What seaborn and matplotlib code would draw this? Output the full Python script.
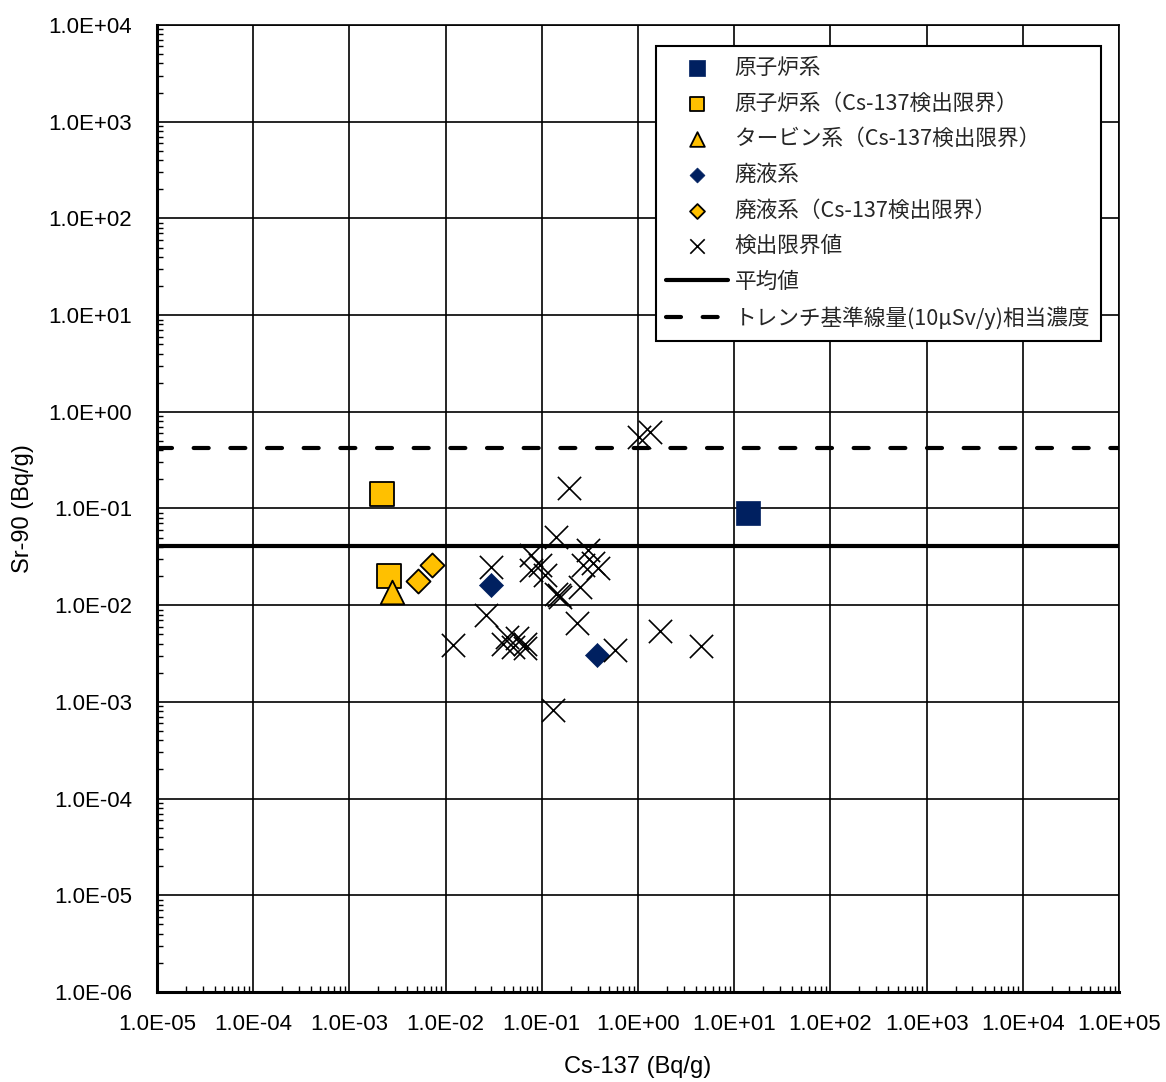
import matplotlib
matplotlib.use("Agg")
import matplotlib.pyplot as plt
import matplotlib.ticker as mticker
from matplotlib.font_manager import FontProperties
import seaborn as sns

# Sr-90 vs Cs-137 concentrations (Bq/g)
reactor_cs = [13.8]
reactor_sr = [0.089]
reactor_dl_cs = [0.00216, 0.00259]
reactor_dl_sr = [0.140, 0.020]
turbine_dl_cs = [0.00278]
turbine_dl_sr = [0.0138]
waste_cs = [0.030, 0.371]
waste_sr = [0.0160, 0.00303]
waste_dl_cs = [0.00522, 0.00720]
waste_dl_sr = [0.0179, 0.0262]
limit_cs = [1.02, 1.33, 0.190, 0.140, 0.030,
            0.078, 0.078, 0.095, 0.107,
            0.142, 0.150, 0.155,
            0.303, 0.269, 0.341, 0.385, 0.248,
            0.233, 0.0266,
            0.043, 0.0396, 0.0546, 0.0665, 0.0504, 0.0665,
            0.0120, 0.574, 1.69, 4.5, 0.131]
limit_sr = [0.551, 0.612, 0.161, 0.051, 0.0249,
            0.033, 0.0231, 0.026, 0.0205,
            0.0132, 0.0128, 0.0122,
            0.037, 0.026, 0.027, 0.024, 0.0155,
            0.00658, 0.0079,
            0.0047, 0.0040, 0.00454, 0.0040, 0.00372, 0.0036,
            0.00390, 0.00343, 0.0054, 0.00378, 0.00082]
mean_sr = 0.0408
trench_sr = 0.418

labels = ["原子炉系", "原子炉系（Cs-137検出限界）", "タービン系（Cs-137検出限界）",
          "廃液系", "廃液系（Cs-137検出限界）", "検出限界値",
          "平均値", "トレンチ基準線量(10μSv/y)相当濃度"]

NAVY = "#002060"
ORANGE = "#FFC000"

sns.set_theme(style="white")
plt.rcParams["font.family"] = ["Liberation Sans", "DejaVu Sans"]

fig = plt.figure(figsize=(11.66, 10.82), dpi=100)
ax = fig.add_axes([157 / 1166, 1 - 992 / 1082, 962 / 1166, 967 / 1082])
ax.set_xscale("log")
ax.set_yscale("log")
ax.set_xlim(1e-5, 1e5)
ax.set_ylim(1e-6, 1e4)

sns.scatterplot(x=reactor_cs, y=reactor_sr, marker="s", s=320, color=NAVY,
                edgecolor=NAVY, linewidth=0.5, label=labels[0], ax=ax, zorder=4)
sns.scatterplot(x=reactor_dl_cs, y=reactor_dl_sr, marker="s", s=300, color=ORANGE,
                edgecolor="black", linewidth=1.3, label=labels[1], ax=ax, zorder=4)
sns.scatterplot(x=turbine_dl_cs, y=turbine_dl_sr, marker="^", s=290, color=ORANGE,
                edgecolor="black", linewidth=1.3, label=labels[2], ax=ax, zorder=4)
sns.scatterplot(x=waste_cs, y=waste_sr, marker="D", s=150, color=NAVY,
                edgecolor=NAVY, linewidth=0.5, label=labels[3], ax=ax, zorder=4)
sns.scatterplot(x=waste_dl_cs, y=waste_dl_sr, marker="D", s=150, color=ORANGE,
                edgecolor="black", linewidth=1.3, label=labels[4], ax=ax, zorder=4)
sns.scatterplot(x=limit_cs, y=limit_sr, marker="x", s=280, color="black",
                linewidth=1.2, label=labels[5], ax=ax, zorder=5)

ax.axhline(mean_sr, color="black", lw=3.0, label=labels[6], zorder=3)
ax.axhline(trench_sr, color="black", lw=3.0, ls=(0, (3.6, 5.2)),
           dash_capstyle="round", label=labels[7], zorder=3)

# grid and ticks
ax.grid(True, which="major", color="black", lw=1.2)
ax.set_axisbelow(True)
ax.xaxis.set_major_locator(mticker.LogLocator(base=10, numticks=20))
ax.yaxis.set_major_locator(mticker.LogLocator(base=10, numticks=20))
ax.xaxis.set_minor_locator(mticker.LogLocator(base=10, subs=range(2, 10), numticks=20))
ax.yaxis.set_minor_locator(mticker.LogLocator(base=10, subs=range(2, 10), numticks=20))
fmt = mticker.FuncFormatter(lambda v, p: f"{v:.1E}")
ax.xaxis.set_major_formatter(fmt)
ax.yaxis.set_major_formatter(fmt)
ax.xaxis.set_minor_formatter(mticker.NullFormatter())
ax.yaxis.set_minor_formatter(mticker.NullFormatter())
ax.tick_params(which="both", direction="in", colors="black", left=True, bottom=True,
               top=False, right=False)
ax.tick_params(which="major", length=0, labelsize=16)
ax.tick_params(which="minor", length=4.5, width=1.0)
ax.tick_params(axis="x", which="major", pad=16)
ax.tick_params(axis="y", which="major", pad=18)

for side in ["left", "bottom"]:
    ax.spines[side].set_color("black")
    ax.spines[side].set_linewidth(2.2)
for side in ["top", "right"]:
    ax.spines[side].set_color("black")
    ax.spines[side].set_linewidth(1.2)

ax.set_xlabel("Cs-137 (Bq/g)", fontsize=17, labelpad=15, color="black")
ax.set_ylabel("Sr-90 (Bq/g)", fontsize=17, labelpad=10, color="black")

leg = ax.legend(loc="upper right", bbox_to_anchor=((1101 - 157) / 962, 1 - (46 - 25) / 967),
                borderaxespad=0, frameon=True, fancybox=False, framealpha=1,
                edgecolor="black", markerscale=0.62, handlelength=2.85,
                handletextpad=0.3, labelspacing=0.63, borderpad=0.5,
                prop=FontProperties(family=["Noto Sans CJK JP", "DejaVu Sans"], size=15.6))
leg.get_frame().set_linewidth(1.5)

fig.savefig("out.png", dpi=100, facecolor="white")
